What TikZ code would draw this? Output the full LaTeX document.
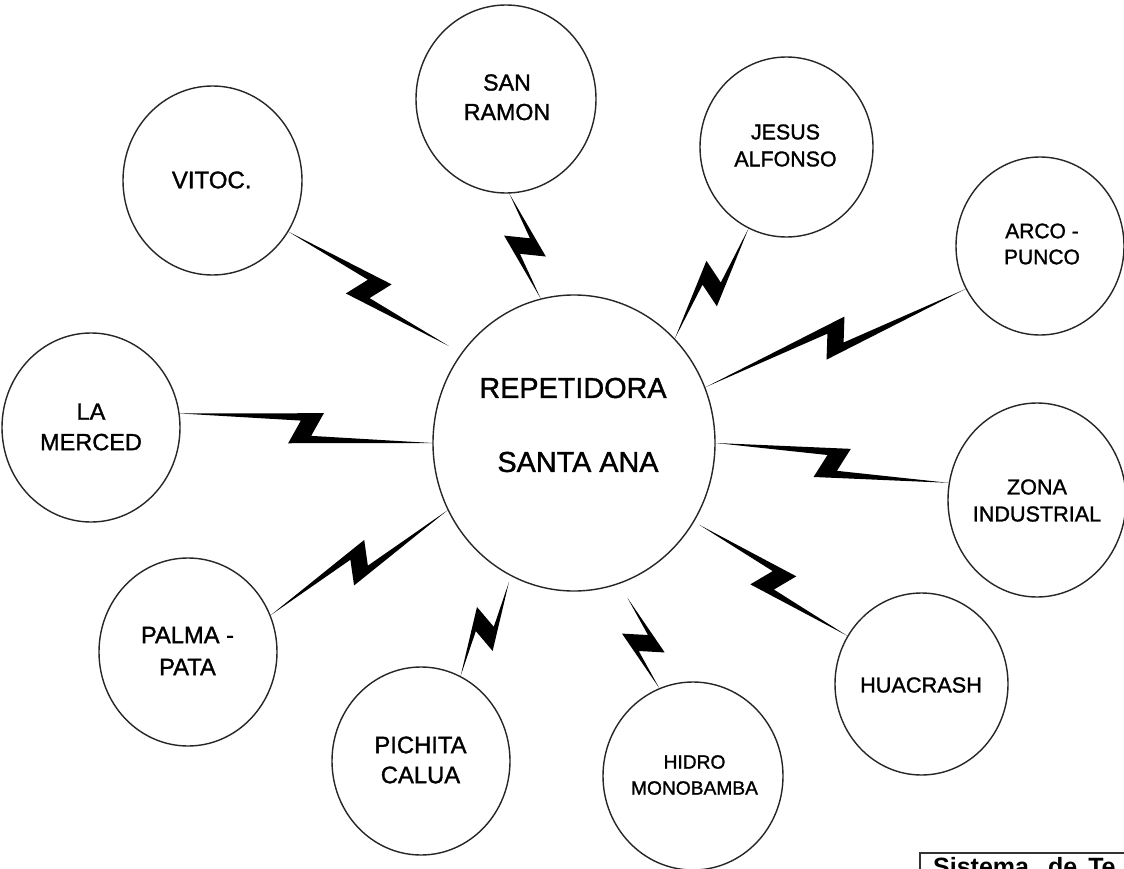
\documentclass[tikz,border=0pt]{standalone}
\usepackage{fontspec}
\setmainfont{Liberation Sans}
\newfontfamily\heavy[FakeBold=1.3]{Liberation Sans}
\usetikzlibrary{calc,shapes.geometric}

\newcommand\fsz[2]{\fontsize{#1}{#2}\selectfont}

\tikzset{
  site/.style={ellipse, draw=black!85, line width=1.4pt, inner sep=0pt},
  tag/.style={align=center, inner sep=0pt, text=black},
  zap/.style={fill=black, draw=none},
  frame/.style={draw=black!80, line width=1.8pt},
}

% lightning link: #1 = end on the outer station, #2 = end on the repeater
\newcommand\zapline[2]{%
  \coordinate (zA) at (#1);
  \coordinate (zB) at (#2);
  \coordinate (zM) at ($(zA)!0.5!(zB)$);
  \fill[zap] (zA)
    -- ($(zM)!16pt!(zB)!17pt!90:(zB)$)
    -- ($(zM)!6pt!(zB)!-7pt!90:(zB)$)
    -- (zB)
    -- ($(zM)!-16pt!(zB)!-17pt!90:(zB)$)
    -- ($(zM)!-6pt!(zB)!7pt!90:(zB)$)
    -- cycle;
}

\begin{document}
\begin{tikzpicture}[x=1pt,y=-1pt]
\useasboundingbox (0,0) rectangle (1124,869);
\clip (0,0) rectangle (1124,869);
\fill[white] (0,0) rectangle (1124,869);

% repeater
\node[site, minimum width=282pt, minimum height=296pt] (hub) at (574,443) {};
\node[tag, font=\heavy\fsz{28.8}{34}] (hubA) at (573,388) {REPETIDORA};
\node[tag, font=\heavy\fsz{28.8}{34}] (hubB) at (578,462) {SANTA ANA};

% stations
\node[site, minimum width=179pt, minimum height=189pt] (vitoc)    at (212.5,180.5) {};
\node[site, minimum width=180pt, minimum height=188pt] (sanramon) at (506,99) {};
\node[site, minimum width=173pt, minimum height=180pt] (jesus)    at (786.5,147) {};
\node[site, minimum width=168pt, minimum height=178pt] (arco)     at (1040,246) {};
\node[site, minimum width=178pt, minimum height=194pt] (zona)     at (1037,500) {};
\node[site, minimum width=173pt, minimum height=182pt] (huacrash) at (921.5,684) {};
\node[site, minimum width=180pt, minimum height=188pt] (hidro)    at (693,776) {};
\node[site, minimum width=178pt, minimum height=188pt] (pichita)  at (421,761) {};
\node[site, minimum width=178pt, minimum height=188pt] (palma)    at (188,652) {};
\node[site, minimum width=178pt, minimum height=189pt] (merced)   at (91,427.5) {};

% station names
\node[tag, font=\heavy\fsz{24}{29}]     (vitocT)    at (211.7,180)  {VITOC.};
\node[tag, font=\heavy\fsz{23.2}{29.5}] (sanramonT) at (507,97.3)   {SAN\\RAMON};
\node[tag, font=\heavy\fsz{21.4}{27}]   (jesusT)    at (785.5,145.5){JESUS\\ALFONSO};
\node[tag, font=\heavy\fsz{21}{26}]     (arcoT)     at (1042,244)   {ARCO -\\PUNCO};
\node[tag, font=\heavy\fsz{21.6}{27}]   (zonaT)     at (1037,500.5) {ZONA\\INDUSTRIAL};
\node[tag, font=\heavy\fsz{21.7}{27}]   (huacrashT) at (921,685)    {HUACRASH};
\node[tag, font=\heavy\fsz{19.2}{26}]   (hidroT)    at (694.5,775)  {HIDRO\\MONOBAMBA};
\node[tag, font=\heavy\fsz{23.8}{30}]   (pichitaT)  at (420.5,760)  {PICHITA\\CALUA};
\node[tag, font=\heavy\fsz{23.7}{32}]   (palmaT)    at (187.5,651)  {PALMA -\\PATA};
\node[tag, font=\heavy\fsz{23.5}{30.5}] (mercedT)   at (91,427)     {LA\\MERCED};

% radio links
\zapline{vitoc.-34}{$(hub.142)!14pt!(vitoc.-34)$}
\zapline{sanramon.-88}{hub.103}
\zapline{jesus.-115}{hub.46}
\zapline{arco.-150}{hub.23}
\zapline{zona.169}{hub.0}
\zapline{huacrash.147}{$(hub.-33)!6pt!(huacrash.147)$}
\zapline{hidro.111}{$(hub.-71)!16pt!(hidro.111)$}
\zapline{pichita.65}{$(hub.-115)!6pt!(pichita.65)$}
\zapline{palma.24}{hub.-152}
\zapline{merced.9}{hub.180}

% caption box in the corner
\coordinate (capTL) at (920,853);
\coordinate (capBR) at (1150,905);
\draw[frame] (capTL) rectangle (capBR);
\node[tag, anchor=north west, font=\fsz{25}{30}\bfseries] (capT) at (933,857)
  {Sistema\hskip 19pt de\hskip 11pt Te};
\end{tikzpicture}
\end{document}
